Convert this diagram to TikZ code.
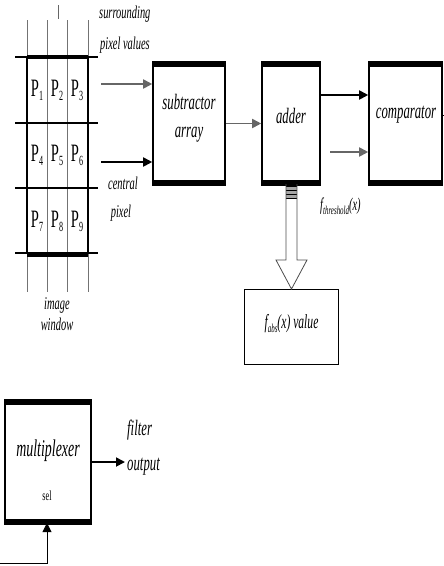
\documentclass[tikz,border=0pt]{standalone}
\usepackage{fontspec}
\setmainfont{Liberation Serif}[FakeStretch=0.58]
\usetikzlibrary{arrows.meta}
\tikzset{
  blk/.style={draw, line width=1.6pt, minimum width=#1, inner sep=0pt},
  lbl/.style={font=\fontsize{18}{20}\selectfont\itshape, inner sep=0pt},
  blbl/.style={font=\fontsize{22}{24}\selectfont\itshape, inner sep=0pt},
  pix/.style={font=\fontsize{25}{27}\selectfont, inner sep=0pt},
  gridv/.style={draw=black!55, line width=0.6pt},
  gridh/.style={draw=black, line width=1.2pt},
  thickbar/.style={line width=5.5pt},
  arr/.style={line width=1.8pt, -{Triangle[length=9pt,width=9pt]}},
  garr/.style={arr, draw=black!60},
}
\newcommand{\pxl}[1]{P\raisebox{-4pt}{\fontsize{14}{14}\selectfont #1}}
\begin{document}
\begin{tikzpicture}[x=1pt,y=-1pt]
\useasboundingbox (0,0) rectangle (444,566);
% ---------- image window ----------
\coordinate (wtl) at (27,57);
\coordinate (wtr) at (88,57);
\coordinate (wbl) at (27,253);
\coordinate (wbr) at (88,253);
\draw[black!60, line width=0.7pt] (58,5) -- (58,19);
\foreach \x in {27,47,67,88}{
  \draw[gridv] (\x,20) -- (\x,57);
  \draw[gridv] (\x,253) -- (\x,292);
}
\draw[gridv] (47,57) -- (47,253);
\draw[gridv] (67,57) -- (67,253);
\draw[gridh] (15,57) -- (98,57);
\draw[gridh] (15,123) -- (98,123);
\draw[gridh] (15,188) -- (98,188);
\draw[gridh] (15,253) -- (98,253);
\draw[line width=4pt] (wtl) -- (wtr);
\draw[line width=5pt] ([yshift=-1pt]wbl) -- ([yshift=-1pt]wbr);
\draw[line width=1.6pt] (wtl) -- (wbl);
\draw[line width=2.6pt] (wtr) -- (wbr);
\node[pix] (p1) at (37,90) {\pxl{1}};
\node[pix] (p2) at (57,90) {\pxl{2}};
\node[pix] (p3) at (77,90) {\pxl{3}};
\node[pix] (p4) at (37,155) {\pxl{4}};
\node[pix] (p5) at (57,155) {\pxl{5}};
\node[pix] (p6) at (77,155) {\pxl{6}};
\node[pix] (p7) at (37,221) {\pxl{7}};
\node[pix] (p8) at (57,221) {\pxl{8}};
\node[pix] (p9) at (77,221) {\pxl{9}};
\node[lbl, anchor=west] (surr) at (99,14) {surrounding};
\node[lbl, anchor=west] (pixv) at (100,45) {pixel values};
\node[lbl] (cent) at (123,183) {central};
\node[lbl] (cpix) at (121,213) {pixel};
\node[lbl] (img) at (57,305) {image};
\node[lbl] (win) at (57,324) {window};
\coordinate (in1) at (101,84);
\coordinate (in2) at (101,162);
% ---------- blocks ----------
\node[blk=72pt, minimum height=121pt] (sub) at (189,123.5) {};
\node[blbl, align=center] (subt) at (189,118) {subtractor\\[4pt]array};
\node[blk=58pt, minimum height=121pt] (add) at (291,123.5) {};
\node[blbl] (addt) at (291,116) {adder};
\node[blk=73pt, minimum height=121pt] (cmp) at (405.5,123.5) {};
\node[blbl] (cmpt) at (406,115) {comparator};
\foreach \b in {sub,add,cmp}{
  \draw[thickbar] ([yshift=-2pt]\b.north west) -- ([yshift=-2pt]\b.north east);
  \draw[thickbar] ([yshift=2pt]\b.south west) -- ([yshift=2pt]\b.south east);
}
\draw[garr] (in1) -- (in1 -| sub.west);
\draw[arr] (in2) -- (in2 -| sub.west);
\draw[garr] (sub.east) -- (add.west);
\draw[arr] (add.east |- 0,95) -- (cmp.west |- 0,95);
\coordinate (thr) at (330,152);
\draw[garr] (thr) -- (thr -| cmp.west);
\coordinate (cstub) at (444,115);
\draw[line width=1pt] (cmp.east |- cstub) -- (cstub);
\node[lbl, anchor=west] (thrt) at (320,206) {f\raisebox{-4pt}{\fontsize{12}{12}\selectfont threshold}(x)};
% ---------- hollow arrow to f_abs ----------
\node[draw=black, line width=1pt, minimum width=94pt, minimum height=75pt, inner sep=0pt] (fabs) at (291.5,327) {};
\node[font=\fontsize{20}{22}\selectfont\itshape, inner sep=0pt] (fabst) at (291.5,324) {f\raisebox{-4pt}{\fontsize{12}{12}\selectfont abs}(x) value};
\fill[black!35] (286,186) rectangle (297,199);
\draw[line width=0.8pt] (286,186) -- (297,186) (286,190) -- (297,190) (286,194) -- (297,194) (286,198) -- (297,198);
\draw[line width=0.8pt, black!70] (286,184) -- (286,260) -- (276,260) -- (fabs.north) -- (307,260) -- (297,260) -- (297,184);
% ---------- multiplexer ----------
\node[blk=86pt, minimum height=122pt] (mux) at (48,462) {};
\draw[thickbar] ([yshift=-2pt]mux.north west) -- ([yshift=-2pt]mux.north east);
\draw[thickbar] ([yshift=2pt]mux.south west) -- ([yshift=2pt]mux.south east);
\node[font=\fontsize{24}{26}\selectfont\itshape, inner sep=0pt] (muxt) at (48,451) {multiplexer};
\node[font=\fontsize{14}{14}\selectfont, inner sep=0pt] (sel) at (47,496) {sel};
\coordinate (fo) at (125,462);
\draw[arr] (mux.east) -- (fo);
\node[blbl, anchor=west] (filt) at (127,430) {filter};
\node[blbl, anchor=west] (outp) at (127,467) {output};
\coordinate (s0) at (0,563);
\draw[line width=1pt] (s0) -- (47,563) -- (47,535);
\draw[arr, line width=1pt] (47,540) -- (47,523);
\end{tikzpicture}
\end{document}
